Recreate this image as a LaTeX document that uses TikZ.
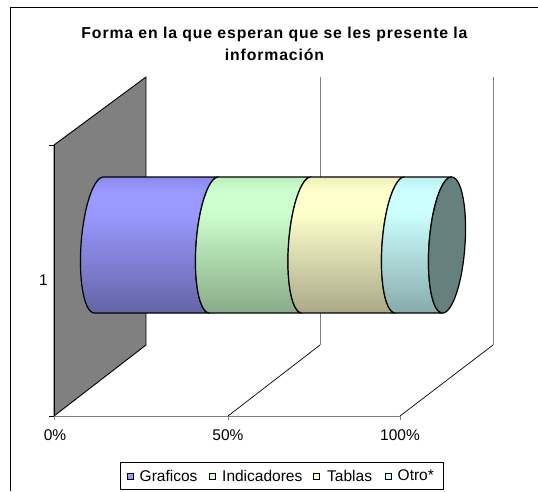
\documentclass[tikz,border=0pt]{standalone}
\usepackage{fontspec}
\setmainfont{Liberation Sans}
\newfontfamily\ttlfont{Liberation Sans}[LetterSpace=5.5]
\definecolor{wallgray}{HTML}{808080}
\definecolor{gridgray}{HTML}{808080}
\definecolor{capcol}{HTML}{668080}
\definecolor{bT}{HTML}{8888EE}\definecolor{bL}{HTML}{9999FF}\definecolor{bB}{HTML}{6464A6}
\definecolor{gT}{HTML}{BBEEBB}\definecolor{gL}{HTML}{CCFFCC}\definecolor{gB}{HTML}{88AA88}
\definecolor{yT}{HTML}{EEEEBB}\definecolor{yL}{HTML}{FFFFCC}\definecolor{yB}{HTML}{AAA888}
\definecolor{cT}{HTML}{BBEEEE}\definecolor{cL}{HTML}{CCFFFF}\definecolor{cB}{HTML}{88AAAA}
\pgfdeclareverticalshading{shblue}{100bp}{color(0bp)=(bB); color(25bp)=(bB); color(62bp)=(bL); color(70bp)=(bL); color(75bp)=(bT); color(100bp)=(bT)}
\pgfdeclareverticalshading{shgreen}{100bp}{color(0bp)=(gB); color(25bp)=(gB); color(62bp)=(gL); color(70bp)=(gL); color(75bp)=(gT); color(100bp)=(gT)}
\pgfdeclareverticalshading{shyellow}{100bp}{color(0bp)=(yB); color(25bp)=(yB); color(62bp)=(yL); color(70bp)=(yL); color(75bp)=(yT); color(100bp)=(yT)}
\pgfdeclareverticalshading{shcyan}{100bp}{color(0bp)=(cB); color(25bp)=(cB); color(62bp)=(cL); color(70bp)=(cL); color(75bp)=(cT); color(100bp)=(cT)}
% segment between ellipse centres #1 and #2, shading #3
\newcommand\cylseg[3]{%
  \draw[cylline, shading=#3]
    ({#1+4.5},177) -- ({#2+4.5},177)
    -- plot[domain=-90:90, samples=41] ({#2 - 18*cos(\x) - 4.5*sin(\x)}, {245 + 68*sin(\x)})
    -- ({#1-4.5},313)
    -- plot[domain=-90:90, samples=41] ({#1 - 18*cos(\x) + 4.5*sin(\x)}, {245 - 68*sin(\x)})
    -- cycle;}
\tikzset{
  cylline/.style={draw=black, line width=1.2pt, line join=round},
  thin line/.style={draw=black, line width=0.7pt},
  grid line/.style={draw=gridgray, line width=1pt},
  lbl/.style={font=\fontsize{15.5}{18}\selectfont, inner sep=0pt},
  ttl/.style={font=\ttlfont\fontsize{15.8}{20}\selectfont\bfseries, inner sep=0pt, anchor=base},
  legsq/.style={draw=black, line width=0.6pt, minimum size=6pt, inner sep=0pt},
  legtxt/.style={lbl, anchor=west},
}
\begin{document}
\begin{tikzpicture}[x=1pt,y=-1pt]
\useasboundingbox (0,0) rectangle (538,491);
% outer frame (left and top)
\coordinate (fr1) at (10,491);
\coordinate (fr2) at (10,7);
\coordinate (fr3) at (538,7);
\draw[black, line width=1pt] (fr1) -- (fr2) -- (fr3);
% title
\node[ttl] (t1) at (274.5,38) {Forma en la que esperan que se les presente la};
\node[ttl] (t2) at (274.5,60) {información};
% back wall
\coordinate (w1) at (54,145);
\coordinate (w2) at (146,77);
\coordinate (w3) at (146,345);
\coordinate (w4) at (54,416);
\filldraw[fill=wallgray, draw=black, line width=0.9pt] (w1) -- (w2) -- (w3) -- (w4) -- cycle;
% gridlines
\coordinate (g50t) at (320,77);
\coordinate (g50b) at (320,345);
\coordinate (g100t) at (493,77);
\coordinate (g100b) at (493,345);
\coordinate (a0) at (54,416);
\coordinate (a50) at (228,416);
\coordinate (a100) at (400,416);
\draw[grid line] (g50t) -- (g50b);
\draw[grid line] (g100t) -- (g100b);
\draw[thin line] (a50) -- (g50b);
\draw[thin line] (a100) -- (g100b);
\draw[grid line] (a0) -- (a100);
% ticks
\coordinate (k0) at (54,420);
\coordinate (k50) at (228,420);
\coordinate (k100) at (400,420);
\draw[grid line] (a0) -- (k0);
\draw[grid line] (a50) -- (k50);
\draw[grid line] (a100) -- (k100);
\coordinate (ky1) at (49,145);
\coordinate (ky2) at (49,416);
\draw[black, line width=1pt] (w1) -- (ky1);
\draw[black, line width=1pt] (w4) -- (ky2);
\draw[black, line width=1pt] (w1) -- (w4);
% cylinder
\cylseg{99}{214}{shblue}
\cylseg{214}{306.5}{shgreen}
\cylseg{306.5}{400}{shyellow}
\cylseg{400}{447}{shcyan}
\draw[cylline, fill=capcol] plot[domain=0:360, samples=81, smooth cycle] ({447 + 18*cos(\x) + 4.5*sin(\x)}, {245 - 68*sin(\x)});
% axis labels
\node[lbl, anchor=base] (l0) at (55,440) {0\%};
\node[lbl, anchor=base] (l50) at (228,440) {50\%};
\node[lbl, anchor=base] (l100) at (400,440) {100\%};
\node[lbl, anchor=base] (lc) at (43.5,285) {1};
% legend
\node[draw=black, line width=0.8pt, minimum width=323pt, minimum height=27pt, inner sep=0pt] (leg) at (281.5,475.5) {};
\node[legsq, fill=bL] (s1) at (130,476) {};
\node[legtxt] (n1) at (139.5,475.5) {Graficos};
\node[legsq, fill=gL] (s2) at (212,476) {};
\node[legtxt] (n2) at (222,475.5) {Indicadores};
\node[legsq, fill=yL] (s3) at (316.5,476) {};
\node[legtxt] (n3) at (327,475.5) {Tablas};
\node[legsq, fill=cL] (s4) at (388.5,476) {};
\node[legtxt] (n4) at (397.5,475.5) {Otro*};
\end{tikzpicture}
\end{document}
